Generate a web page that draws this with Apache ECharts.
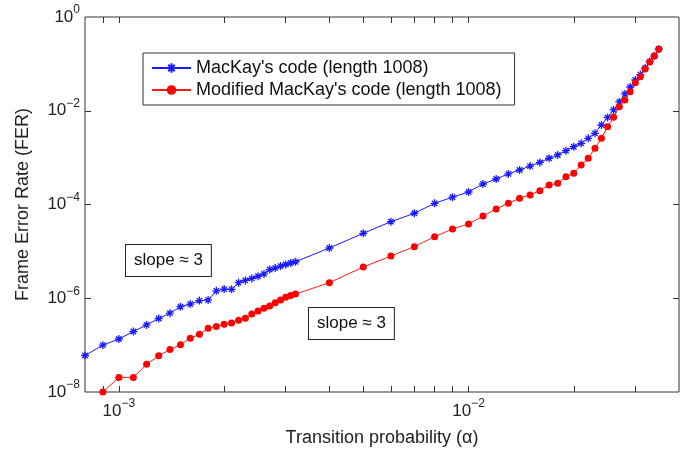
<!DOCTYPE html>
<html>
<head>
<meta charset="utf-8">
<script src="https://cdn.jsdelivr.net/npm/echarts@6/dist/echarts.min.js"></script>
<style>
  html, body { margin: 0; padding: 0; background: #fff; }
  #chart-container { width: 698px; height: 452px; }
</style>
</head>
<body>
<div id="chart-container"></div>
<script>
// transition probability (alpha) values
const alpha = [
	8e-4, 9e-4, 1.0e-3, 1.1e-3, 1.2e-3, 1.3e-3, 1.4e-3, 1.5e-3, 1.6e-3, 1.7e-3,
	1.8e-3, 1.9e-3, 2.0e-3, 2.1e-3, 2.2e-3, 2.3e-3, 2.4e-3, 2.5e-3, 2.6e-3, 2.7e-3,
	2.8e-3, 2.9e-3, 3.0e-3, 3.1e-3, 3.2e-3, 4e-3, 5e-3, 6e-3, 7e-3, 8e-3,
	9e-3, 1.0e-2, 1.1e-2, 1.2e-2, 1.3e-2, 1.4e-2, 1.5e-2, 1.6e-2, 1.7e-2, 1.8e-2,
	1.9e-2, 2.0e-2, 2.1e-2, 2.2e-2, 2.3e-2, 2.4e-2, 2.5e-2, 2.6e-2, 2.7e-2, 2.8e-2,
	2.9e-2, 3.0e-2, 3.1e-2, 3.2e-2, 3.3e-2, 3.4e-2, 3.5e-2,
];
// FER, MacKay's code
const ferMacKay = [
	6.0e-8, 1.0e-7, 1.35e-7, 1.95e-7, 2.7e-7, 3.7e-7, 4.8e-7, 6.6e-7, 7.5e-7, 8.9e-7,
	9.2e-7, 1.44e-6, 1.57e-6, 1.55e-6, 2.15e-6, 2.4e-6, 2.65e-6, 2.95e-6, 3.3e-6, 4.1e-6,
	4.4e-6, 4.85e-6, 5.25e-6, 5.65e-6, 6.0e-6, 1.18e-5, 2.43e-5, 4.3e-5, 6.5e-5, 1.06e-4,
	1.43e-4, 1.85e-4, 2.74e-4, 3.5e-4, 4.5e-4, 5.45e-4, 6.6e-4, 7.9e-4, 9.7e-4, 1.14e-3,
	1.41e-3, 1.71e-3, 2.02e-3, 2.58e-3, 3.3e-3, 4.97e-3, 7.2e-3, 1.04e-2, 1.54e-2, 2.28e-2,
	3.21e-2, 4.53e-2, 5.9e-2, 8.2e-2, 0.112, 0.147, 0.208,
];
// FER, modified MacKay's code (no point at the first alpha)
const ferModified = [
	null, 1.0e-8, 2.05e-8, 2.05e-8, 3.9e-8, 5.9e-8, 8.1e-8, 1.02e-7, 1.4e-7, 1.7e-7,
	2.3e-7, 2.5e-7, 2.8e-7, 2.95e-7, 3.4e-7, 3.75e-7, 4.6e-7, 5.35e-7, 6.1e-7, 6.8e-7,
	8.0e-7, 9.2e-7, 1.05e-6, 1.15e-6, 1.23e-6, 2.15e-6, 4.64e-6, 7.97e-6, 1.26e-5, 2.06e-5,
	3.0e-5, 3.84e-5, 5.7e-5, 8.0e-5, 1.06e-4, 1.36e-4, 1.6e-4, 1.97e-4, 2.61e-4, 2.83e-4,
	3.92e-4, 4.63e-4, 6.97e-4, 9.68e-4, 1.58e-3, 2.58e-3, 4.57e-3, 7.24e-3, 1.22e-2, 1.69e-2,
	2.55e-2, 3.97e-2, 5.33e-2, 7.78e-2, 0.11, 0.147, 0.205,
];
const xTicks = [9e-4, 1e-3, 2e-3, 3e-3, 4e-3, 5e-3, 6e-3, 7e-3, 8e-3, 9e-3, 1e-2, 2e-2, 3e-2];
const xTickLabels = [1e-3, 1e-2];
const yTicks = [1e-6, 1e-4, 1e-2];
const yTickLabels = [1e-8, 1e-6, 1e-4, 1e-2, 1];

const X_MIN = 8e-4, X_MAX = 0.04, Y_MIN = 1e-8, Y_MAX = 1;
const GRID = { left: 85, right: 19, top: 17, bottom: 60 };
const FONT = '"Liberation Sans", Arial, Helvetica, sans-serif';
const TICK = 6;

function pairs(xs, ys) {
	const out = [];
	for (let i = 0; i < xs.length; i++) {
		if (ys[i] != null) out.push([xs[i], ys[i]]);
	}
	return out;
}

function powLabel(v) {
	const e = Math.round(Math.log10(v));
	return '{b|10}{s|' + (e < 0 ? '\u2212' + (-e) : e) + '}';
}

const powRich = {
	b: { fontSize: 17, fontFamily: FONT, color: '#222' },
	s: { fontSize: 12, fontFamily: FONT, color: '#222', padding: [0, 0, 14, 0] },
};

function slopeBox(left, top) {
	return {
		type: 'text',
		left: left,
		top: top,
		z: 10,
		style: {
			text: 'slope ≈ 3',
			font: '17px ' + FONT,
			fill: '#111',
			backgroundColor: '#fff',
			borderColor: '#222',
			borderWidth: 1,
			padding: [7, 8],
		},
	};
}

let chart = echarts.init(document.getElementById('chart-container'), null, {
	renderer: 'canvas',
});

// tick length expressed in log decades, so the tick segments go through the log axes
const gridW = chart.getWidth() - GRID.left - GRID.right;
const gridH = chart.getHeight() - GRID.top - GRID.bottom;
const kx = Math.pow(10, TICK * Math.log10(X_MAX / X_MIN) / gridW);
const ky = Math.pow(10, TICK * Math.log10(Y_MAX / Y_MIN) / gridH);

const tickSegments = [];
xTicks.forEach(function (v) {
	tickSegments.push({ coords: [[v, Y_MIN], [v, Y_MIN * ky]] });
	tickSegments.push({ coords: [[v, Y_MAX], [v, Y_MAX / ky]] });
});
yTicks.forEach(function (v) {
	tickSegments.push({ coords: [[X_MIN, v], [X_MIN * kx, v]] });
	tickSegments.push({ coords: [[X_MAX, v], [X_MAX / kx, v]] });
});

let option = {
	animation: false,
	backgroundColor: '#fff',
	grid: Object.assign({ show: true, borderColor: '#333', borderWidth: 1 }, GRID),
	legend: {
		orient: 'vertical',
		left: 143,
		top: 53,
		padding: [5, 13, 5, 8],
		itemGap: 2,
		itemWidth: 39,
		itemHeight: 12,
		borderColor: '#333',
		borderWidth: 1,
		backgroundColor: '#fff',
		textStyle: { fontFamily: FONT, fontSize: 18, color: '#111', lineHeight: 20 },
		data: ["MacKay's code (length 1008)", "Modified MacKay's code (length 1008)"],
	},
	xAxis: {
		type: 'log',
		logBase: 10,
		min: X_MIN,
		max: X_MAX,
		name: 'Transition probability (α)',
		nameLocation: 'middle',
		nameGap: 37,
		nameTextStyle: { fontFamily: FONT, fontSize: 18, color: '#222' },
		axisLine: { show: false },
		splitLine: { show: false },
		axisTick: { show: false },
		axisLabel: { customValues: xTickLabels, margin: 6, formatter: powLabel, rich: powRich },
	},
	yAxis: {
		type: 'log',
		logBase: 10,
		min: Y_MIN,
		max: Y_MAX,
		name: 'Frame Error Rate (FER)',
		nameLocation: 'middle',
		nameGap: 53,
		nameTextStyle: { fontFamily: FONT, fontSize: 18, color: '#222' },
		axisLine: { show: false },
		splitLine: { show: false },
		axisTick: { show: false },
		axisLabel: { customValues: yTickLabels, margin: 5, formatter: powLabel, rich: powRich },
	},
	graphic: [slopeBox(125, 244), slopeBox(308, 307)],
	series: [
		{
			name: 'ticks',
			type: 'lines',
			coordinateSystem: 'cartesian2d',
			silent: true,
			z: 3,
			lineStyle: { color: '#333', width: 1, opacity: 1, curveness: 0 },
			data: tickSegments,
		},
		{
			name: "MacKay's code (length 1008)",
			type: 'line',
			clip: false,
			symbol: 'path://M0,5L10,5M5,0L5,10M1.6,1.6L8.4,8.4M8.4,1.6L1.6,8.4',
			symbolSize: 8,
			lineStyle: { color: '#1a1aff', width: 1 },
			itemStyle: { color: '#1a1aff', borderColor: '#1a1aff', borderWidth: 1.3 },
			data: pairs(alpha, ferMacKay),
		},
		{
			name: "Modified MacKay's code (length 1008)",
			type: 'line',
			clip: false,
			symbol: 'circle',
			symbolSize: 7,
			lineStyle: { color: '#ff1a1a', width: 1 },
			itemStyle: { color: '#ff0000', borderColor: '#ff0000', borderWidth: 0 },
			data: pairs(alpha, ferModified),
		},
	],
};

chart.setOption(option);
window.addEventListener('resize', chart.resize);
</script>
</body>
</html>
